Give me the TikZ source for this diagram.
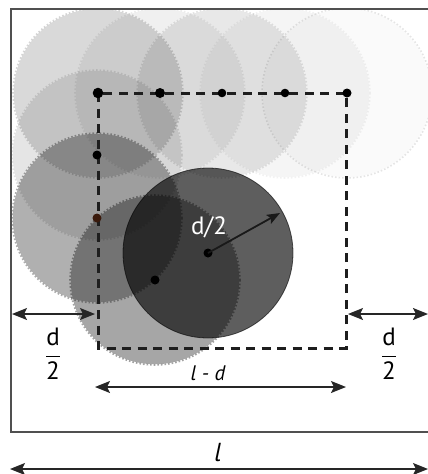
\documentclass[tikz,border=0pt]{standalone}
\usepackage{amsmath}
\usepackage{fontspec}
\setmainfont{PT Sans}
\usetikzlibrary{arrows.meta}
\definecolor{framegray}{HTML}{505050}
\definecolor{dashcol}{HTML}{1E1E1E}
\definecolor{browndot}{HTML}{3A1A0C}
\begin{document}
\begin{tikzpicture}[x=1pt,y=-1pt,
  ghostfill/.style={fill=black},
  ghostring/.style={draw=black, dotted, line width=1.6pt},
  dotpt/.style={fill=black},
  dimarrow/.style={{Stealth[length=15pt,width=12pt,inset=3pt]}-{Stealth[length=15pt,width=12pt,inset=3pt]}, line width=1.4pt, draw=black!85},
  lab/.style={font=\fontsize{25}{30}\selectfont, inner sep=0pt}]
\useasboundingbox (0,0) rectangle (428,474);
% centres of the successive positions
\coordinate (p1) at (347,93);
\coordinate (p2) at (285,93);
\coordinate (p3) at (222,93);
\coordinate (p4) at (160,93);
\coordinate (p5) at (98,93);
\coordinate (p6) at (97,155);
\coordinate (p7) at (97,218);
\coordinate (p8) at (155,280);
\coordinate (p9) at (208,253);
% translucent circles
\begin{scope}
  \clip (11,9) rectangle (440,432);
  \foreach \pn/\fa/\da in {p1/0.02/0.10, p2/0.04/0.05, p3/0.09/0.10, p4/0.06/0.07, p5/0.15/0.16, p6/0.10/0.11, p7/0.31/0.32, p8/0.35/0.36}{
    \path[ghostfill, fill opacity=\fa] (\pn) circle[radius=84.2];
    \path[ghostring, draw opacity=\da] (\pn) circle[radius=85];
  }
  \path[fill=black, fill opacity=0.63, draw=black, draw opacity=0.6, line width=0.8pt] (p9) circle[radius=85];
\end{scope}
% frame
\coordinate (ftr) at (432,9);
\coordinate (ftl) at (11,9);
\coordinate (fbl) at (11,432);
\coordinate (fbr) at (432,432);
\draw[framegray, line width=1.7pt] (ftr) -- (ftl) -- (fbl) -- (fbr);
% dashed square
\coordinate (sq1) at (98,93);
\coordinate (sq2) at (346,348);
\draw[dashcol, line width=3pt, dash pattern=on 9pt off 6.5pt] (sq1) rectangle (sq2);
% dots
\foreach \pn/\r in {p1/4.5, p2/4.3, p3/4.3, p4/5, p5/5.3, p6/4.5, p8/4.5, p9/4.5}
  \fill[dotpt] (\pn) circle[radius=\r];
\fill[browndot] (p7) circle[radius=4.5];
% radius arrow and label
\coordinate (rtip) at (280,213);
\draw[-{Stealth[length=13pt,width=10pt,inset=2.5pt]}, line width=1.8pt, black!90] (p9) -- (rtip);
\node[lab, text=white] (rlab) at (209,227) {d/2};
% dimension arrows
\coordinate (a1) at (12,314);
\coordinate (a2) at (95,314);
\draw[dimarrow] (a1) -- (a2);
\node[lab] (fl) at (53,354) {$\dfrac{\text{d}}{\text{2}}$};
\coordinate (b1) at (348,314);
\coordinate (b2) at (428,314);
\draw[dimarrow] (b1) -- (b2);
\node[lab] (fr) at (389,354) {$\dfrac{\text{d}}{\text{2}}$};
\coordinate (c1) at (95,387);
\coordinate (c2) at (346,387);
\draw[dimarrow] (c1) -- (c2);
\node[lab, font=\fontsize{21}{25}\selectfont\itshape] (ld) at (208,373) {l - d};
\coordinate (e1) at (10,469);
\coordinate (e2) at (428,469);
\draw[dimarrow] (e1) -- (e2);
\node[lab, font=\fontsize{26}{30}\selectfont\itshape] (ll) at (218,453) {l};
\end{tikzpicture}
\end{document}
